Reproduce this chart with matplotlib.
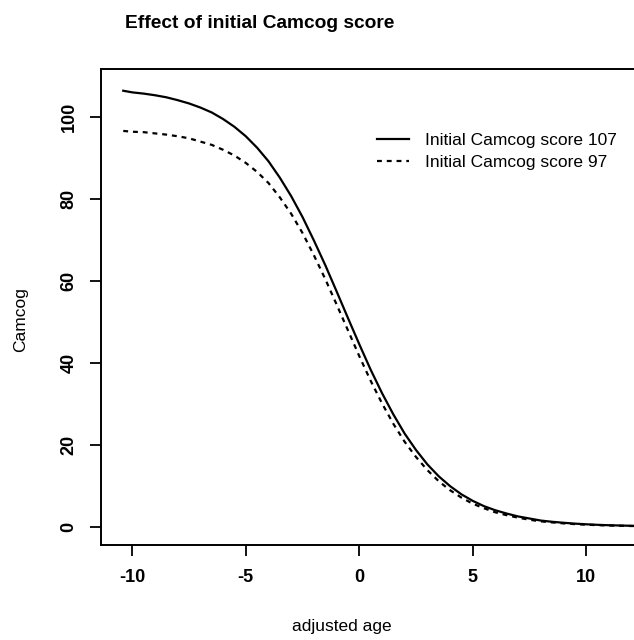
import matplotlib
matplotlib.use("Agg")
import matplotlib.pyplot as plt
from matplotlib.lines import Line2D

plt.rcParams['font.family'] = ['Liberation Sans', 'DejaVu Sans']

# adjusted age grid
age = [-10.4, -10, -9.5, -9, -8.5, -8, -7.5, -7, -6.5, -6, -5.5, -5, -4.5, -4,
       -3.5, -3, -2.5, -2, -1.5, -1, -0.5, 0, 0.5, 1, 1.5, 2, 2.5, 3, 3.5, 4,
       4.5, 5, 5.5, 6, 6.5, 7, 7.5, 8, 8.5, 9, 9.5, 10, 10.5, 11, 11.5, 12, 12.5]

# Initial Camcog score 107 (solid)
camcog_107 = [106.3, 105.9, 105.6, 105.2, 104.7, 104.0, 103.2, 102.2, 101.0,
              99.4, 97.5, 95.2, 92.4, 89.1, 85.1, 80.6, 75.5, 69.8, 63.8,
              57.4, 50.9, 44.5, 38.3, 32.6, 27.4, 22.7, 18.7, 15.2, 12.3,
              9.9, 7.9, 6.3, 5.0, 4.0, 3.2, 2.5, 2.0, 1.5, 1.2, 0.96, 0.75,
              0.59, 0.46, 0.36, 0.29, 0.22, 0.18]

# Initial Camcog score 97 (dashed)
camcog_97 = [96.5, 96.3, 96.2, 95.9, 95.6, 95.2, 94.7, 93.9, 93.1, 91.9,
             90.5, 88.7, 86.5, 83.8, 80.3, 76.3, 71.6, 66.2, 60.4, 54.2,
             47.9, 41.6, 35.6, 30.1, 25.1, 20.7, 17.0, 13.8, 11.1, 8.9,
             7.1, 5.6, 4.5, 3.5, 2.8, 2.2, 1.7, 1.3, 1.05, 0.81, 0.63,
             0.49, 0.38, 0.29, 0.23, 0.17, 0.14]

series_labels = ["Initial Camcog score 107", "Initial Camcog score 97"]
x_ticks = [-10, -5, 0, 5, 10]
y_ticks = [0, 20, 40, 60, 80, 100]

W, H = 634, 640
fig = plt.figure(figsize=(W / 100, H / 100), dpi=100)
left, right, top, bottom = 101, 640, 69, 545
ax = fig.add_axes([left / W, 1 - bottom / H, (right - left) / W, (bottom - top) / H])

ax.plot(age, camcog_107, color='black', lw=1.6, linestyle='-')
ax.plot(age, camcog_97, color='black', lw=1.6, linestyle=(0, (2.2, 2.2)))

ax.set_xlim(-11.38, 12.37)
ax.set_ylim(-4.46, 111.6)
ax.set_xticks(x_ticks)
ax.set_yticks(y_ticks)
ax.set_xticklabels([str(t) for t in x_ticks], fontsize=13, fontweight='bold')
ax.set_yticklabels([str(t) for t in y_ticks], fontsize=13, fontweight='bold',
                   rotation=90, va='center')
ax.tick_params(axis='x', direction='out', length=8, width=1.3, pad=9)
ax.tick_params(axis='y', direction='out', length=8, width=1.3, pad=9)
for s in ax.spines.values():
    s.set_linewidth(1.4)

fig.text(260 / W, 1 - 24 / H, "Effect of initial Camcog score", fontsize=13.8,
         fontweight='bold', ha='center', va='center')
fig.text(342 / W, 1 - 626 / H, "adjusted age", fontsize=12.5, ha='center', va='center')
fig.text(21 / W, 1 - 320 / H, "Camcog", fontsize=12.5, ha='center', va='center',
         rotation=90)

handles = [Line2D([], [], color='black', lw=1.6, linestyle='-'),
           Line2D([], [], color='black', lw=1.6, linestyle=(0, (2.2, 2.2)))]
fig.legend(handles, series_labels, loc='upper left',
           bbox_to_anchor=(377 / W, 1 - 133 / H), frameon=False, fontsize=12.5,
           handlelength=1.85, handletextpad=0.9, labelspacing=0.38,
           borderpad=0, borderaxespad=0)

fig.savefig("out.png", dpi=100)
